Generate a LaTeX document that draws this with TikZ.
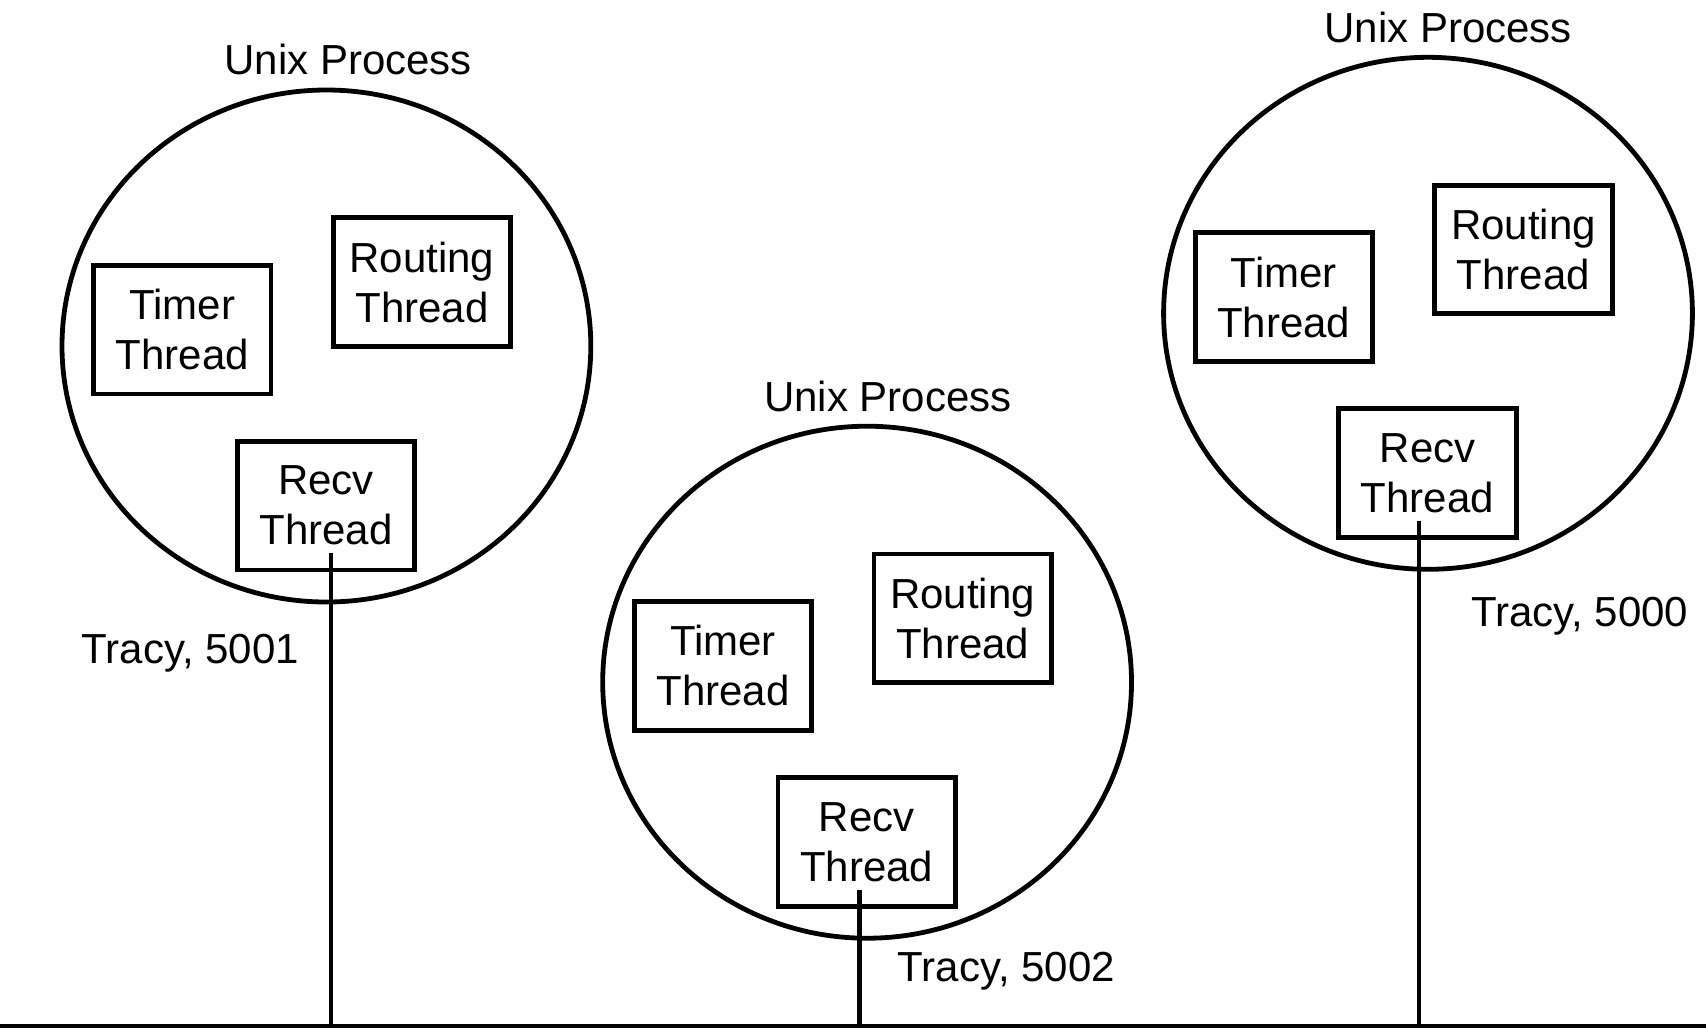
\documentclass[tikz,border=0pt]{standalone}
\usepackage{fontspec}
\setmainfont{Liberation Sans}
\usetikzlibrary{shapes.geometric}
\begin{document}
\begin{tikzpicture}[x=0.5pt,y=-0.5pt,
  lw/.style={line width=2.4pt},
  proc/.style={ellipse,draw,lw,minimum width=264.4pt,minimum height=256pt,inner sep=0pt},
  thr/.style={rectangle,draw,lw,minimum width=88.7pt,minimum height=64.2pt,inner sep=0pt,align=center,font=\fontsize{21}{25}\selectfont},
  lbl/.style={inner sep=0pt,font=\fontsize{21}{25}\selectfont}]
\useasboundingbox (0,0) rectangle (1706,1030);
\coordinate (busL) at (0,1026);
\coordinate (busR) at (1706,1026);
% process 1
\node[proc] (p1) at (326.4,346) {};
\node[lbl] (u1) at (348.2,59.8) {Unix Process};
\node[thr] (tm1) at (182.2,329.7) {Timer\\Thread};
\node[thr] (rt1) at (421.9,282) {Routing\\Thread};
\node[thr] (rc1) at (325.9,505.7) {Recv\\Thread};
\node[lbl] (tr1) at (190.4,652.8) {Tracy, 5001};
% process 2
\node[proc] (p2) at (867.1,682.2) {};
\node[lbl] (u2) at (887.8,396) {Unix Process};
\node[thr] (tm2) at (722.9,665.9) {Timer\\Thread};
\node[thr] (rt2) at (962.6,618.2) {Routing\\Thread};
\node[thr] (rc2) at (866.6,841.9) {Recv\\Thread};
\node[lbl] (tr2) at (1006.4,971.6) {Tracy, 5002};
% process 3
\node[proc] (p3) at (1428,313.3) {};
\node[lbl] (u3) at (1448.1,27.2) {Unix Process};
\node[thr] (tm3) at (1283.8,297) {Timer\\Thread};
\node[thr] (rt3) at (1523.5,249.3) {Routing\\Thread};
\node[thr] (rc3) at (1427.5,473) {Recv\\Thread};
\node[lbl] (tr3) at (1579.8,615.8) {Tracy, 5000};
% connectors
\coordinate (s1) at ([xshift=2.5pt,yshift=9.5pt]rc1.south);
\coordinate (s2) at ([xshift=-3.5pt,yshift=9.5pt]rc2.south);
\coordinate (s3) at ([xshift=-4.3pt,yshift=9.5pt]rc3.south);
\draw[lw] (s1) -- (s1 |- busL);
\draw[lw] (s2) -- (s2 |- busL);
\draw[lw] (s3) -- (s3 |- busL);
\draw[lw] (busL) -- (busR);
\end{tikzpicture}
\end{document}
